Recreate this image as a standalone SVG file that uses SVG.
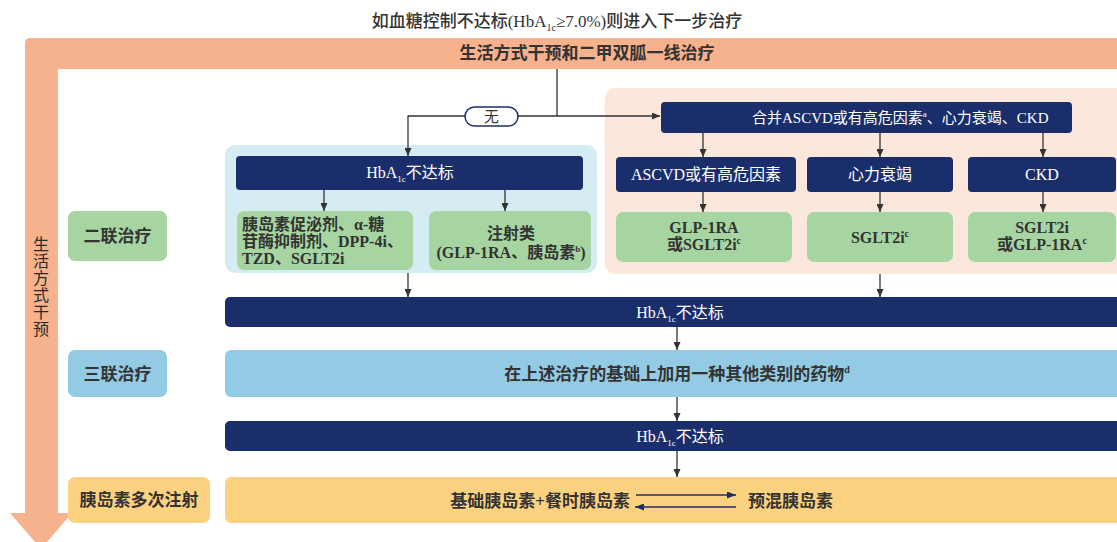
<svg xmlns="http://www.w3.org/2000/svg" width="1117" height="542" viewBox="0 0 1117 542">
<defs>
<style>
text { font-family: "Liberation Serif", "Noto Sans CJK SC", serif; }
.w { fill: #ffffff; font-size: 16px; }
.d { fill: #333333; font-size: 16px; font-weight: bold; }
.m { text-anchor: middle; }
.navy { fill: #1B2E6C; }
.green { fill: #A6D5A1; }
.lblue { fill: #94CBE4; }
.yellow { fill: #FCD180; }
.ln { stroke: #333333; stroke-width: 1.3; fill: none; marker-end: url(#ah); }
.nl { stroke: #1B2E6C; stroke-width: 1.5; fill: none; marker-end: url(#ahn); }
</style>
<marker id="ah" markerUnits="userSpaceOnUse" markerWidth="8" markerHeight="7" refX="8" refY="3.5" orient="auto">
<path d="M0,0 L8,3.5 L0,7 Z" fill="#333333"/>
</marker>
<marker id="ahn" markerUnits="userSpaceOnUse" markerWidth="9" markerHeight="7" refX="9" refY="3.5" orient="auto">
<path d="M0,0 L9,3.5 L0,7 Z" fill="#1B2E6C"/>
</marker>
</defs>
<rect width="1117" height="542" fill="#ffffff"/>

<g id="title">
<text x="557" y="27" class="m" style="font-size:17px;fill:#333333;font-weight:500">如血糖控制不达标(HbA<tspan font-size="10" dy="4">1c</tspan><tspan dy="-4">≥7.0%)则进入下一步治疗</tspan></text>
</g>

<g id="lifestyle-frame">
<path d="M30 38 H1130 V69 H58 V513 H72 L41 549 L10 513 H25 V43 Q25 38 30 38 Z" fill="#F6B18D"/>
<text x="587" y="59" class="d m" style="font-size:17px">生活方式干预和二甲双胍一线治疗</text>
<g style="font-size:16px;fill:#2a2a2a">
<text x="41" y="250" class="m">生</text>
<text x="41" y="267" class="m">活</text>
<text x="41" y="284" class="m">方</text>
<text x="41" y="301" class="m">式</text>
<text x="41" y="318" class="m">干</text>
<text x="41" y="335" class="m">预</text>
</g>
</g>

<g id="panel-none">
<rect x="225" y="145" width="372" height="128" rx="10" fill="#D5ECF2"/>
</g>
<g id="panel-comorbid">
<rect x="605" y="88" width="530" height="186" rx="10" fill="#FCE7DD"/>
</g>

<g id="node-comorbid">
<rect x="661" y="102" width="411" height="31" rx="4" class="navy"/>
<text x="752" y="122.5" class="w" style="font-size:15px">合并ASCVD或有高危因素<tspan font-size="9" dy="-6">a</tspan><tspan dy="6">、心力衰竭、CKD</tspan></text>
</g>

<g id="node-hba1c-1">
<rect x="236" y="156" width="347" height="34" rx="4" class="navy"/>
<text x="410" y="178" class="w m">HbA<tspan font-size="9" dy="4">1c</tspan><tspan dy="-4">不达标</tspan></text>
</g>

<g id="node-oral">
<rect x="237" y="211" width="176" height="59" rx="7" class="green"/>
<text x="242" y="230" class="d">胰岛素促泌剂、α-糖</text>
<text x="242" y="247" class="d">苷酶抑制剂、DPP-4i、</text>
<text x="242" y="264" class="d">TZD、SGLT2i</text>
</g>

<g id="node-inject">
<rect x="429" y="211" width="162" height="59" rx="7" class="green"/>
<text x="511" y="239" class="d m">注射类</text>
<text x="511" y="258" class="d m">(GLP-1RA、胰岛素<tspan font-size="9" dy="-6">b</tspan><tspan dy="6">)</tspan></text>
</g>

<g id="node-ascvd">
<rect x="616" y="157" width="180" height="35" rx="4" class="navy"/>
<text x="706" y="180" class="w m">ASCVD或有高危因素</text>
</g>
<g id="node-hf">
<rect x="807" y="157" width="146" height="35" rx="4" class="navy"/>
<text x="880" y="180" class="w m">心力衰竭</text>
</g>
<g id="node-ckd">
<rect x="968" y="157" width="148" height="35" rx="4" class="navy"/>
<text x="1042" y="180" class="w m">CKD</text>
</g>

<g id="node-ascvd-rx">
<rect x="616" y="212" width="176" height="50" rx="7" class="green"/>
<text x="704" y="233" class="d m">GLP-1RA</text>
<text x="704" y="250" class="d m">或SGLT2i<tspan font-size="10" dy="-6">c</tspan></text>
</g>
<g id="node-hf-rx">
<rect x="807" y="212" width="146" height="50" rx="7" class="green"/>
<text x="880" y="243" class="d m">SGLT2i<tspan font-size="10" dy="-6">c</tspan></text>
</g>
<g id="node-ckd-rx">
<rect x="968" y="212" width="148" height="50" rx="7" class="green"/>
<text x="1042" y="233" class="d m">SGLT2i</text>
<text x="1042" y="250" class="d m">或GLP-1RA<tspan font-size="10" dy="-6">c</tspan></text>
</g>

<g id="node-hba1c-2">
<rect x="225" y="297" width="905" height="30" rx="5" class="navy"/>
<text x="680" y="318" class="w m">HbA<tspan font-size="9" dy="4">1c</tspan><tspan dy="-4">不达标</tspan></text>
</g>

<g id="node-triple">
<rect x="225" y="350" width="905" height="47" rx="6" class="lblue"/>
<text x="677" y="380" class="d m" style="font-size:17px">在上述治疗的基础上加用一种其他类别的药物<tspan font-size="10" dy="-7">d</tspan></text>
</g>

<g id="node-hba1c-3">
<rect x="225" y="421" width="905" height="30" rx="5" class="navy"/>
<text x="680" y="442" class="w m">HbA<tspan font-size="9" dy="4">1c</tspan><tspan dy="-4">不达标</tspan></text>
</g>

<g id="node-insulin">
<rect x="225" y="477" width="905" height="46" rx="6" class="yellow"/>
<text x="630" y="507" class="d" style="font-size:17px;text-anchor:end">基础胰岛素+餐时胰岛素</text>
<text x="748" y="507" class="d" style="font-size:17px">预混胰岛素</text>
</g>

<g id="label-dual">
<rect x="68" y="211" width="99" height="50" rx="7" class="green"/>
<text x="117.5" y="242" class="d m" style="font-size:17px">二联治疗</text>
</g>
<g id="label-triple">
<rect x="68" y="350" width="99" height="47" rx="7" class="lblue"/>
<text x="117.5" y="380" class="d m" style="font-size:17px">三联治疗</text>
</g>
<g id="label-insulin">
<rect x="68" y="477" width="142" height="46" rx="7" class="yellow"/>
<text x="139" y="506" class="d m" style="font-size:17px">胰岛素多次注射</text>
</g>

<g id="connectors">
<line x1="557" y1="69" x2="557" y2="116" stroke="#333333" stroke-width="1.3"/>
<line x1="408" y1="116" x2="660" y2="116" class="ln"/>
<line x1="408" y1="115.4" x2="408" y2="156" class="ln"/>
<line x1="324" y1="190" x2="324" y2="211" class="ln"/>
<line x1="505" y1="190" x2="505" y2="211" class="ln"/>
<line x1="703" y1="133" x2="703" y2="157" class="ln"/>
<line x1="880" y1="133" x2="880" y2="157" class="ln"/>
<line x1="1043" y1="133" x2="1043" y2="157" class="ln"/>
<line x1="703" y1="192" x2="703" y2="212" class="ln"/>
<line x1="880" y1="192" x2="880" y2="212" class="ln"/>
<line x1="1043" y1="192" x2="1043" y2="212" class="ln"/>
<line x1="408" y1="273" x2="408" y2="297" class="ln"/>
<line x1="880" y1="274" x2="880" y2="297" class="ln"/>
<line x1="677" y1="327" x2="677" y2="350" class="ln"/>
<line x1="677" y1="397" x2="677" y2="421" class="ln"/>
<line x1="677" y1="451" x2="677" y2="477" class="ln"/>
<line x1="636" y1="495" x2="736" y2="495" class="nl"/>
<line x1="736" y1="507" x2="635" y2="507" class="nl"/>
</g>

<g id="node-none">
<rect x="465" y="107" width="53" height="19" rx="9.5" fill="#ffffff" stroke="#1B2E6C" stroke-width="1.5"/>
<text x="491.5" y="122" class="m" style="font-size:15px;fill:#333333">无</text>
</g>
</svg>
